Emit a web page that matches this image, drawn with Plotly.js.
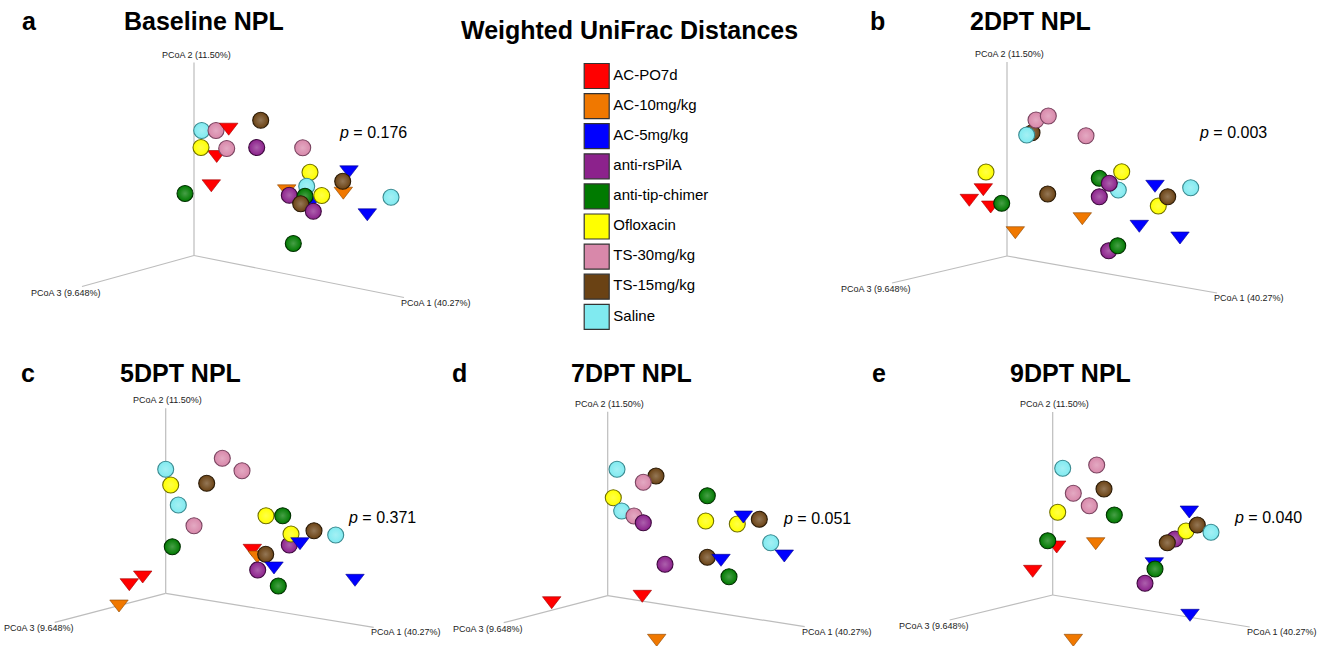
<!DOCTYPE html>
<html><head><meta charset="utf-8">
<script src="https://cdn.plot.ly/plotly-3.0.1.min.js"></script>
<style>html,body{margin:0;padding:0;background:#fff;}#chart{width:1327px;height:646px;}</style>
</head><body><div id="chart"></div>
<script>
// ---------------- DATA ----------------
const groups = ['AC-PO7d','AC-10mg/kg','AC-5mg/kg','anti-rsPilA','anti-tip-chimer','Ofloxacin','TS-30mg/kg','TS-15mg/kg','Saline'];
const panelTitles = ['Baseline NPL','2DPT NPL','5DPT NPL','7DPT NPL','9DPT NPL'];
const panelLetters = ['a','b','c','d','e'];
const pValues = ['0.176','0.003','0.371','0.051','0.040'];
const axisLabels = ['PCoA 1 (40.27%)','PCoA 2 (11.50%)','PCoA 3 (9.648%)'];
const mainTitle = 'Weighted UniFrac Distances';

// projected PCoA coordinates (screen projection, relative to the axes origin)
const baseline_x = [-9,17.3,7.7,22,34.7,66.7,22.7,7,32.7,62.7,108.7,116,155,149.3,148.7,112.7,92.7,117.7,95.3,111,127.7,106.7,119.3,197,173.3,99.3];
const baseline_y = [62,71.7,125,125,128.3,135.3,101,108,107,108,107.7,83.3,85.7,64.3,74.3,69.3,66.7,55,60.3,59.3,60,51.7,44.3,58.3,42.7,12];
const baseline_g = [4,0,8,6,0,7,0,5,6,3,6,5,2,1,7,8,1,2,3,4,5,7,3,8,2,4];

const dpt2_x = [25,19.7,29,41.3,79,-21,-23.7,-37.7,-16.3,-5.3,8.3,40.7,75.3,92.3,114.7,111.3,102.3,92.3,148,151.3,160.7,183.7,132.3,173,101.7,110.7];
const dpt2_y = [123.3,121,136,140,120.3,84,68.3,57.7,51,52.7,25.3,62,39.3,77.7,84.3,66,72.7,59.3,71.7,50,59.3,68.3,31.7,20,5.3,10.3];
const dpt2_g = [7,8,6,6,6,5,0,0,0,4,1,7,1,4,5,8,3,3,2,5,7,8,2,2,3,4];

const dpt5_x = [0,5,56.6,76.3,41,12.6,28.3,6.6,-23,-36.4,-46.7,100.3,117,148.3,170,123.6,125.3,134.3,86.6,91.6,100,108.3,92,112.6,189.3];
const dpt5_y = [124,108.3,135,122.6,110,88.3,67.6,46.6,18.3,10.6,-10.7,77.6,77.6,62.6,58.3,48.3,59.3,51.6,45,38.3,39,27.3,23.3,7.3,15];
const dpt5_g = [8,5,6,6,7,8,6,4,0,0,1,5,4,7,8,3,5,2,0,1,7,2,3,4,2];

const dpt7_x = [9.3,48.3,35.6,5.6,14,26.3,35.6,99.6,98,129.6,135.6,151.6,163,176.6,57.3,99.6,113.3,121.3,-56,34.6,49];
const dpt7_y = [126.4,119.7,113.4,98,84.7,79.7,73,100,74.7,71.7,80.7,76.4,53,41.7,31.4,38.4,37.4,19,-5,1.4,-42.6];
const dpt7_g = [8,7,6,5,8,6,3,4,5,5,2,7,8,2,3,7,2,4,0,0,1];

const dpt9_x = [10,44,20.6,51.3,36.6,5,61.6,4,-5,43,-20,136.6,122.3,114.6,133.3,144.6,158.3,101.6,102.3,92.3,137.3,20.6];
const dpt9_y = [126.7,130,101.7,106,89.3,82.7,80,50,54.3,53.3,25.7,85,56,52.3,64,70,62.7,33.3,26,11.7,-18.3,-43.3];
const dpt9_g = [8,6,6,7,6,5,4,0,4,1,0,2,3,7,5,7,8,2,4,3,2,1];

// projected axis vectors per panel: PCoA2 (vertical length), PCoA3 end, PCoA1 end
const axisPC2Len = [193,194,185,184,183];
const axisPC3End_x = [-112,-115,-111,-104,-103];
const axisPC3End_y = [-31,-27,-29,-27,-25];
const axisPC1End_x = [210,210,208,197,197];
const axisPC1End_y = [-42,-37,-34,-31,-32];

// ---------------- STYLE / LAYOUT ----------------
const W = 1327, H = 646;
const FONT = 'Liberation Sans, Arial, Helvetica, sans-serif';
const fillColors = ['#FF0000','#F07800','#0000FF','#8C228C','#007A00','#FFFF00','#D888AA','#6A4214','#80EAF0'];
const edgeColors = ['#A00000','#8A4400','#00008A','#3E0A3E','#003000','#707000','#7A4460','#2A1A06','#3A8A90'];
const symbols   = ['triangle-down','triangle-down','triangle-down','circle','circle','circle','circle','circle','circle'];
function tint(hex, f) {
  const n = parseInt(hex.slice(1), 16);
  const c = [(n >> 16) & 255, (n >> 8) & 255, n & 255].map(v => Math.round(v + (255 - v) * f));
  return 'rgb(' + c.join(',') + ')';
}

const panelData = [
  [baseline_x, baseline_y, baseline_g],
  [dpt2_x, dpt2_y, dpt2_g],
  [dpt5_x, dpt5_y, dpt5_g],
  [dpt7_x, dpt7_y, dpt7_g],
  [dpt9_x, dpt9_y, dpt9_g]
];
const panelOrigin = [[194,255.5],[1007,256],[165.7,593.3],[607.7,595.7],[1052.7,595]];
const titlePos = [[204,21],[1030,21],[180,373],[631,373],[1070,373]];
const letterPos = [[29,21],[878,21],[28,373],[460,373],[879,373]];
const pPos = [[373,133],[1233,133],[382,517],[817,518],[1268,517]];

const px = x => x / W;
const py = y => 1 - y / H;

const traces = [];
const layout = {
  width: W, height: H,
  margin: {l:0, r:0, t:0, b:0},
  paper_bgcolor: '#fff', plot_bgcolor: 'rgba(0,0,0,0)',
  showlegend: false,
  font: {family: FONT, color: '#000'},
  annotations: []
};
const ann = (o) => Object.assign({showarrow: false, xanchor: 'center', yanchor: 'middle'}, o);

panelData.forEach((pd, i) => {
  const [ox, oy] = panelOrigin[i];
  const bx0 = Math.max(0, ox - 145), bx1 = Math.min(W, ox + 272);
  const by0 = Math.max(0, oy - 215), by1 = Math.min(H, oy + 52);
  const n = i === 0 ? '' : String(i + 1);
  const xa = 'x' + n, ya = 'y' + n;
  layout['xaxis' + n] = {domain: [px(bx0), px(bx1)], range: [bx0 - ox, bx1 - ox], visible: false, fixedrange: true};
  layout['yaxis' + n] = {domain: [py(by1), py(by0)], range: [oy - by1, oy - by0], visible: false, fixedrange: true};

  // axes of the 3D projection
  traces.push({
    type: 'scatter', mode: 'lines', xaxis: xa, yaxis: ya, hoverinfo: 'skip',
    x: [0, 0, null, 0, axisPC3End_x[i], null, 0, axisPC1End_x[i]],
    y: [0, axisPC2Len[i], null, 0, axisPC3End_y[i], null, 0, axisPC1End_y[i]],
    line: {color: '#BDBDBD', width: 1.2}
  });
  const [xs, ys, gs] = pd;
  traces.push({
    type: 'scatter', mode: 'markers', xaxis: xa, yaxis: ya, cliponaxis: false,
    x: xs, y: ys,
    text: gs.map(g => groups[g]), hoverinfo: 'text',
    marker: {
      color: gs.map(g => fillColors[g]),
      symbol: gs.map(g => symbols[g]),
      size: 16,
      gradient: {type: 'radial', color: gs.map(g => symbols[g] === 'circle' ? tint(fillColors[g], 0.28) : fillColors[g])},
      line: {color: gs.map(g => edgeColors[g]), width: gs.map(g => symbols[g] === 'circle' ? 1.1 : 0.6)},
      opacity: 1
    }
  });
  // axis labels
  const lf = {family: FONT, size: 9, color: '#222'};
  layout.annotations.push(
    ann({xref: xa, yref: ya, x: 2, y: axisPC2Len[i] + 8, text: axisLabels[1], font: lf}),
    ann({xref: xa, yref: ya, x: axisPC3End_x[i] - 16, y: axisPC3End_y[i] - 6, text: axisLabels[2], font: lf}),
    ann({xref: xa, yref: ya, x: axisPC1End_x[i] + 32, y: axisPC1End_y[i] - 5, text: axisLabels[0], font: lf})
  );
  // titles
  layout.annotations.push(
    ann({xref: 'paper', yref: 'paper', x: px(titlePos[i][0]), y: py(titlePos[i][1]), text: '<b>' + panelTitles[i] + '</b>', font: {family: FONT, size: 25, color: '#000'}}),
    ann({xref: 'paper', yref: 'paper', x: px(letterPos[i][0]), y: py(letterPos[i][1]), text: '<b>' + panelLetters[i] + '</b>', font: {family: FONT, size: 25, color: '#000'}}),
    ann({xref: 'paper', yref: 'paper', x: px(pPos[i][0]), y: py(pPos[i][1]), text: '<i>p</i> = ' + pValues[i], font: {family: FONT, size: 16, color: '#000'}})
  );
});

// main title
layout.annotations.push(ann({xref: 'paper', yref: 'paper', x: px(629), y: py(30), text: '<b>' + mainTitle + '</b>', font: {family: FONT, size: 25, color: '#000'}}));

// legend panel (drawn as its own subplot)
const lx0 = 570, lx1 = 780, ly0 = 58, ly1 = 335, ltop = 76, lstep = 30.1;
layout.xaxis6 = {domain: [px(lx0), px(lx1)], range: [0, lx1 - lx0], visible: false, fixedrange: true};
layout.yaxis6 = {domain: [py(ly1), py(ly0)], range: [(ly1 - ltop) / lstep, (ly0 - ltop) / lstep], visible: false, fixedrange: true};
traces.push({
  type: 'scatter', mode: 'markers+text', xaxis: 'x6', yaxis: 'y6', cliponaxis: false, hoverinfo: 'skip',
  x: groups.map(() => 596.7 - lx0),
  y: groups.map((g, k) => k),
  text: groups.map(g => g),
  textposition: 'middle right',
  textfont: {family: FONT, size: 15, color: '#000'},
  marker: {symbol: 'square', size: 25, color: fillColors, line: {color: '#333', width: 1.2}}
});

Plotly.newPlot('chart', traces, layout, {staticPlot: true, displayModeBar: false});
</script>
</body></html>
